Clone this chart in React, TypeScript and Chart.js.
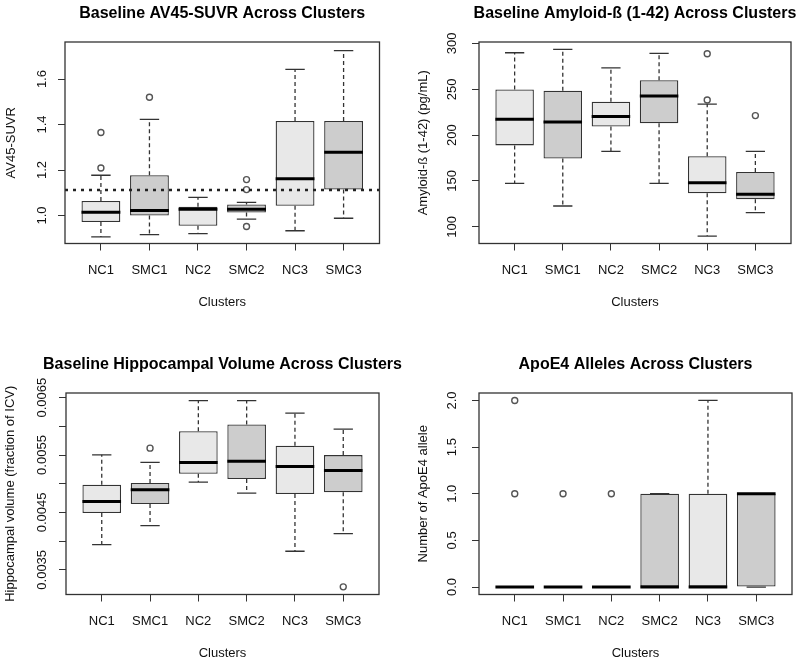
import React, { useEffect, useRef } from 'react';
import { Chart, registerables } from 'chart.js';

Chart.register(...registerables);
Chart.defaults.font.family = "'Liberation Sans', Arial, Helvetica, sans-serif";
Chart.defaults.color = '#111';

// ---------- shared ----------
const categories = ['NC1', 'SMC1', 'NC2', 'SMC2', 'NC3', 'SMC3'];
const boxFills = ['#e8e8e8', '#cdcdcd', '#e8e8e8', '#cdcdcd', '#e8e8e8', '#cdcdcd'];

// ---------- panel 1 : AV45-SUVR ----------
const av45Low = [0.906, 0.916, 0.92, 0.984, 0.933, 0.988];
const av45Q1 = [0.971, 1.0, 0.955, 1.013, 1.043, 1.114];
const av45Median = [1.014, 1.022, 1.028, 1.028, 1.162, 1.278];
const av45Q3 = [1.064, 1.177, 1.039, 1.049, 1.416, 1.416];
const av45High = [1.177, 1.423, 1.08, 1.058, 1.643, 1.725];
const av45OutlierGroup = [0, 0, 1, 3, 3, 3];
const av45OutlierValue = [1.209, 1.365, 1.52, 1.158, 1.114, 0.952];
const av45Cutoff = 1.112;
const av45Ticks = [1.0, 1.2, 1.4, 1.6];

// ---------- panel 2 : Amyloid-beta ----------
const abLow = [147.3, 122.7, 182.3, 147.3, 89.9, 115.5];
const abQ1 = [188.8, 174.4, 209.4, 213.0, 136.5, 130.0];
const abMedian = [217.3, 214.4, 220.2, 242.6, 148.0, 135.4];
const abQ3 = [249.8, 248.4, 236.5, 259.9, 176.9, 159.9];
const abHigh = [289.9, 293.5, 273.3, 289.2, 233.9, 182.3];
const abOutlierGroup = [4, 4, 5];
const abOutlierValue = [288.8, 238.3, 221.3];
const abTicks = [100, 150, 200, 250, 300];

// ---------- panel 3 : Hippocampal volume ----------
const hvLow = [0.003939, 0.004269, 0.005028, 0.004837, 0.003823, 0.00413];
const hvQ1 = [0.004489, 0.004646, 0.005173, 0.00508, 0.00482, 0.004849];
const hvMedian = [0.004692, 0.004895, 0.00537, 0.005393, 0.005301, 0.005231];
const hvQ3 = [0.004982, 0.005011, 0.005915, 0.006031, 0.00566, 0.005498];
const hvHigh = [0.005503, 0.00537, 0.006448, 0.006448, 0.006228, 0.00595];
const hvOutlierGroup = [1, 5];
const hvOutlierValue = [0.005619, 0.003203];
const hvTicks = [0.0035, 0.004, 0.0045, 0.005, 0.0055, 0.006, 0.0065];
const hvTickLabels = ['0.0035', '', '0.0045', '', '0.0055', '', '0.0065'];

// ---------- panel 4 : ApoE4 alleles ----------
const apoLow = [0, 0, 0, 0, 0, 0];
const apoQ1 = [0, 0, 0, 0, 0, 0];
const apoMedian = [0, 0, 0, 0, 0, 1];
const apoQ3 = [0, 0, 0, 1, 1, 1];
const apoHigh = [0, 0, 0, 1, 2, 1];
const apoOutlierGroup = [0, 0, 1, 2];
const apoOutlierValue = [1, 2, 1, 1];
const apoTicks = [0, 0.5, 1.0, 1.5, 2.0];

type PanelDef = {
  title: string;
  yTitle: string;
  low: number[];
  q1: number[];
  median: number[];
  q3: number[];
  high: number[];
  outlierGroup: number[];
  outlierValue: number[];
  yMin: number;
  yMax: number;
  yTicks: number[];
  yLabel: (v: number, i: number) => string;
  cutoff?: number;
  canvasW: number;
  left: number;
  right: number;
  yTickPad: number;
  yTitlePad: number;
};

const CANVAS_H = 310;
const PLOT_BOTTOM = 243.5;
const X_MIN = 0.26;
const X_MAX = 6.74;

const framePlugin = {
  id: 'frame',
  afterDatasetsDraw(chart: any) {
    const { ctx, chartArea } = chart;
    ctx.save();
    ctx.strokeStyle = '#333';
    ctx.lineWidth = 1.3;
    ctx.strokeRect(chartArea.left, chartArea.top, chartArea.right - chartArea.left, chartArea.bottom - chartArea.top);
    ctx.restore();
  },
};

// let the title (centred over the plot region) run wider than the plot region, as in R
const titleOverflowPlugin = {
  id: 'titleOverflow',
  afterLayout(chart: any) {
    const t = chart.titleBlock;
    if (!t) return;
    const extra = 70;
    t.left -= extra;
    t.right += extra;
    t.width += extra * 2;
  },
};

function buildConfig(p: PanelDef): any {
  const boxes = categories.map((_, i) => ({ x: i + 1, y: [p.q1[i], p.q3[i]] }));
  const medians: any[] = [];
  const staples: any[] = [];
  const whiskers: any[] = [];
  categories.forEach((_, i) => {
    const x = i + 1;
    medians.push({ x: x - 0.4, y: p.median[i] }, { x: x + 0.4, y: p.median[i] }, { x: x + 0.4, y: null });
    staples.push({ x: x - 0.2, y: p.low[i] }, { x: x + 0.2, y: p.low[i] }, { x: x + 0.2, y: null });
    staples.push({ x: x - 0.2, y: p.high[i] }, { x: x + 0.2, y: p.high[i] }, { x: x + 0.2, y: null });
    if (p.high[i] > p.q3[i]) whiskers.push({ x, y: p.q3[i] }, { x, y: p.high[i] }, { x, y: null });
    if (p.low[i] < p.q1[i]) whiskers.push({ x, y: p.q1[i] }, { x, y: p.low[i] }, { x, y: null });
  });
  const outliers = p.outlierGroup.map((g, i) => ({ x: g + 1, y: p.outlierValue[i] }));

  const datasets: any[] = [
    {
      type: 'bar',
      data: boxes,
      backgroundColor: boxFills,
      borderColor: '#333',
      borderWidth: 1.3,
      borderSkipped: false,
      barPercentage: 0.8,
      categoryPercentage: 1,
      order: 6,
    },
    {
      type: 'line',
      data: whiskers,
      borderColor: '#333',
      borderWidth: 1.3,
      borderDash: [4, 3],
      pointRadius: 0,
      fill: false,
      order: 5,
    },
    {
      type: 'line',
      data: staples,
      borderColor: '#333',
      borderWidth: 1.3,
      pointRadius: 0,
      fill: false,
      order: 4,
    },
    {
      type: 'line',
      data: medians,
      borderColor: '#000',
      borderWidth: 3,
      pointRadius: 0,
      fill: false,
      order: 3,
    },
    {
      type: 'scatter',
      data: outliers,
      pointRadius: 3,
      pointBorderWidth: 1.4,
      pointBorderColor: '#555',
      pointBackgroundColor: 'rgba(0,0,0,0)',
      order: 2,
    },
  ];
  if (p.cutoff !== undefined) {
    datasets.push({
      type: 'line',
      data: [
        { x: X_MIN, y: p.cutoff },
        { x: X_MAX, y: p.cutoff },
      ],
      borderColor: '#222',
      borderWidth: 2.5,
      borderDash: [3, 5],
      pointRadius: 0,
      fill: false,
      order: 1,
    });
  }

  const axisGrid = { drawOnChartArea: false, drawTicks: true, tickLength: 7, color: '#333', lineWidth: 1, offset: false };

  return {
    type: 'bar',
    data: { datasets },
    plugins: [framePlugin, titleOverflowPlugin],
    options: {
      responsive: false,
      animation: false,
      events: [],
      layout: { padding: { left: 0, right: p.canvasW - p.right, top: 0, bottom: 0 } },
      plugins: {
        legend: { display: false },
        tooltip: { enabled: false },
        title: {
          display: true,
          fullSize: false,
          text: p.title,
          color: '#000',
          font: { size: 16, weight: 'bold' },
          padding: { top: 4, bottom: 42 - 4 - 16 * 1.2 },
        },
      },
      scales: {
        x: {
          type: 'linear',
          min: X_MIN,
          max: X_MAX,
          offset: false,
          grid: axisGrid,
          border: { display: false },
          afterBuildTicks: (scale: any) => {
            scale.ticks = categories.map((_, i) => ({ value: i + 1 }));
          },
          afterFit: (scale: any) => {
            scale.height = CANVAS_H - PLOT_BOTTOM;
          },
          ticks: {
            autoSkip: false,
            maxRotation: 0,
            minRotation: 0,
            padding: 12,
            color: '#111',
            font: { size: 13 },
            callback: (v: number) => categories[Math.round(v) - 1] ?? '',
          },
          title: {
            display: true,
            text: 'Clusters',
            color: '#111',
            font: { size: 13 },
            padding: { top: 0, bottom: 0 },
          },
        },
        y: {
          type: 'linear',
          min: p.yMin,
          max: p.yMax,
          grid: axisGrid,
          border: { display: false },
          afterBuildTicks: (scale: any) => {
            scale.ticks = p.yTicks.map((v) => ({ value: v }));
          },
          afterFit: (scale: any) => {
            scale.width = p.left;
          },
          ticks: {
            autoSkip: false,
            minRotation: 90,
            maxRotation: 90,
            crossAlign: 'center',
            padding: p.yTickPad,
            color: '#111',
            font: { size: 13 },
            callback: (v: number, i: number) => p.yLabel(v, i),
          },
          title: {
            display: true,
            text: p.yTitle,
            color: '#111',
            font: { size: 13 },
            padding: { top: p.yTitlePad, bottom: 0 },
          },
        },
      },
    },
  };
}

const panels: PanelDef[] = [
  {
    title: 'Baseline AV45-SUVR Across Clusters',
    yTitle: 'AV45-SUVR',
    low: av45Low,
    q1: av45Q1,
    median: av45Median,
    q3: av45Q3,
    high: av45High,
    outlierGroup: av45OutlierGroup,
    outlierValue: av45OutlierValue,
    yMin: 0.877,
    yMax: 1.763,
    yTicks: av45Ticks,
    yLabel: (v) => v.toFixed(1),
    cutoff: av45Cutoff,
    canvasW: 400,
    left: 65,
    right: 379.5,
    yTickPad: 7,
    yTitlePad: 3.5,
  },
  {
    title: 'Baseline Amyloid-ß (1-42) Across Clusters',
    yTitle: 'Amyloid-ß (1-42) (pg/mL)',
    low: abLow,
    q1: abQ1,
    median: abMedian,
    q3: abQ3,
    high: abHigh,
    outlierGroup: abOutlierGroup,
    outlierValue: abOutlierValue,
    yMin: 81.8,
    yMax: 301.6,
    yTicks: abTicks,
    yLabel: (v) => String(Math.round(v)),
    canvasW: 400,
    left: 79,
    right: 391,
    yTickPad: 9,
    yTitlePad: 16,
  },
  {
    title: 'Baseline Hippocampal Volume Across Clusters',
    yTitle: 'Hippocampal volume (fraction of ICV)',
    low: hvLow,
    q1: hvQ1,
    median: hvMedian,
    q3: hvQ3,
    high: hvHigh,
    outlierGroup: hvOutlierGroup,
    outlierValue: hvOutlierValue,
    yMin: 0.00307,
    yMax: 0.00658,
    yTicks: hvTicks,
    yLabel: (_v, i) => hvTickLabels[i] ?? '',
    canvasW: 420,
    left: 66,
    right: 379,
    yTickPad: -3.5,
    yTitlePad: 2.5,
  },
  {
    title: 'ApoE4 Alleles Across Clusters',
    yTitle: 'Number of ApoE4 allele',
    low: apoLow,
    q1: apoQ1,
    median: apoMedian,
    q3: apoQ3,
    high: apoHigh,
    outlierGroup: apoOutlierGroup,
    outlierValue: apoOutlierValue,
    yMin: -0.08,
    yMax: 2.08,
    yTicks: apoTicks,
    yLabel: (v) => v.toFixed(1),
    canvasW: 400,
    left: 79,
    right: 392,
    yTickPad: 11,
    yTitlePad: 16,
  },
];

function Panel({ def, left, top }: { def: PanelDef; left: number; top: number }) {
  const ref = useRef<HTMLCanvasElement | null>(null);
  useEffect(() => {
    if (!ref.current) return;
    const chart = new Chart(ref.current, buildConfig(def));
    return () => chart.destroy();
  }, [def]);
  return (
    <canvas
      ref={ref}
      width={def.canvasW}
      height={CANVAS_H}
      style={{ position: 'absolute', left, top, width: def.canvasW, height: CANVAS_H }}
    />
  );
}

export default function App() {
  return (
    <div style={{ position: 'absolute', left: 0, top: 0, width: 800, height: 661, background: '#fff', overflow: 'hidden' }}>
      <Panel def={panels[1]} left={400} top={0} />
      <Panel def={panels[3]} left={400} top={351} />
      <Panel def={panels[0]} left={0} top={0} />
      <Panel def={panels[2]} left={0} top={351} />
    </div>
  );
}
